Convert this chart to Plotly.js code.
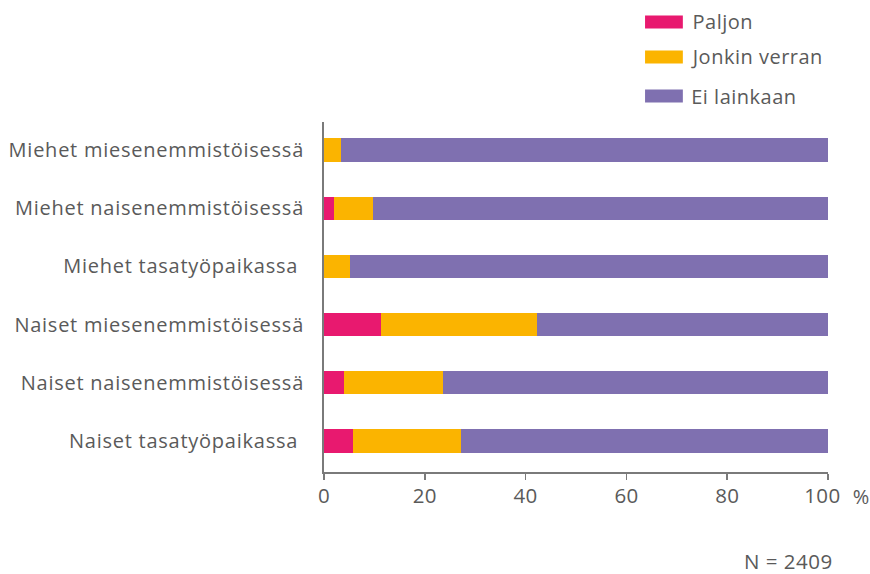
<!DOCTYPE html>
<html>
<head>
<meta charset="utf-8">
<script src="https://cdn.plot.ly/plotly-3.0.1.min.js"></script>
<style>
html,body{margin:0;padding:0;background:#fff;}
#chart{width:870px;height:574px;}
#chart .ytick text{letter-spacing:0.75px;}
#chart .xtick text{letter-spacing:0.3px;}
#chart .annotation-text{letter-spacing:0.5px;}
</style>
</head>
<body>
<div id="chart"></div>
<script>
const categories = [
  "Miehet miesenemmistöisessä",
  "Miehet naisenemmistöisessä",
  "Miehet tasatyöpaikassa\u00a0",
  "Naiset miesenemmistöisessä",
  "Naiset naisenemmistöisessä",
  "Naiset tasatyöpaikassa\u00a0"
];
const seriesNames = ["Paljon", "Jonkin verran", "Ei lainkaan"];
const paljon = [0, 1.9, 0, 11.3, 4.0, 5.8];
const jonkinVerran = [3.4, 7.8, 5.2, 31.0, 19.7, 21.4];
const eiLainkaan = [96.6, 90.3, 94.8, 57.7, 76.3, 72.8];
const colors = ["#E8196F", "#FBB400", "#7F70B0"];
const xTicks = [0, 20, 40, 60, 80, 100];

const values = [paljon, jonkinVerran, eiLainkaan];
const font = "Open Sans, Noto Sans, sans-serif";
const textColor = "#5a5a5a";

const traces = values.map((v, i) => ({
  type: "bar",
  orientation: "h",
  name: seriesNames[i],
  x: v,
  y: categories,
  marker: {color: colors[i], line: {width: 0}},
  showlegend: false,
  hoverinfo: "x+name"
}));

// legend drawn as swatches + labels
const legY = [1.286, 1.186, 1.074];
const shapes = seriesNames.map((n, i) => ({
  type: "rect", xref: "paper", yref: "paper",
  x0: 0.637, x1: 0.712, y0: legY[i] - 0.0186, y1: legY[i] + 0.0186,
  fillcolor: colors[i], line: {width: 0}
}));
const annotations = seriesNames.map((n, i) => ({
  xref: "paper", yref: "paper", x: 0.730, y: legY[i],
  xanchor: "left", yanchor: "middle", text: n, showarrow: false,
  font: {family: font, size: 20, color: textColor}
}));
annotations.push({
  xref: "paper", yref: "paper", x: 1.067, y: -0.069,
  xanchor: "center", yanchor: "middle", text: "%", showarrow: false,
  font: {family: font, size: 20, color: textColor}
});
annotations.push({
  xref: "paper", yref: "paper", x: 1.010, y: -0.255,
  xanchor: "right", yanchor: "middle", text: "N = 2409", showarrow: false,
  font: {family: font, size: 20.5, color: textColor}
});

const layout = {
  width: 870, height: 574,
  margin: {l: 324, r: 42, t: 122, b: 102},
  paper_bgcolor: "#fff", plot_bgcolor: "#fff",
  barmode: "stack",
  bargap: 0.6,
  showlegend: false,
  font: {family: font, size: 18, color: textColor},
  xaxis: {
    range: [0, 100],
    tickvals: xTicks,
    ticktext: xTicks.map(t => t === 100 ? "100\u00a0\u00a0" : String(t)),
    showgrid: false, zeroline: false,
    showline: true, linecolor: "#7a7a7a", linewidth: 1.5,
    ticks: "outside", ticklen: 6, tickcolor: "#7a7a7a", tickwidth: 1.5,
    ticklabelstandoff: -1,
    tickfont: {family: font, size: 20.5, color: textColor},
    fixedrange: true
  },
  yaxis: {
    type: "category",
    categoryorder: "array", categoryarray: categories,
    range: [5.533, -0.48],
    showgrid: false, zeroline: false,
    showline: true, linecolor: "#7a7a7a", linewidth: 2,
    ticks: "", ticklabelstandoff: 14,
    tickfont: {family: font, size: 20, color: textColor},
    fixedrange: true
  },
  shapes: shapes,
  annotations: annotations
};

Plotly.newPlot("chart", traces, layout, {displayModeBar: false, staticPlot: true});
</script>
</body>
</html>
